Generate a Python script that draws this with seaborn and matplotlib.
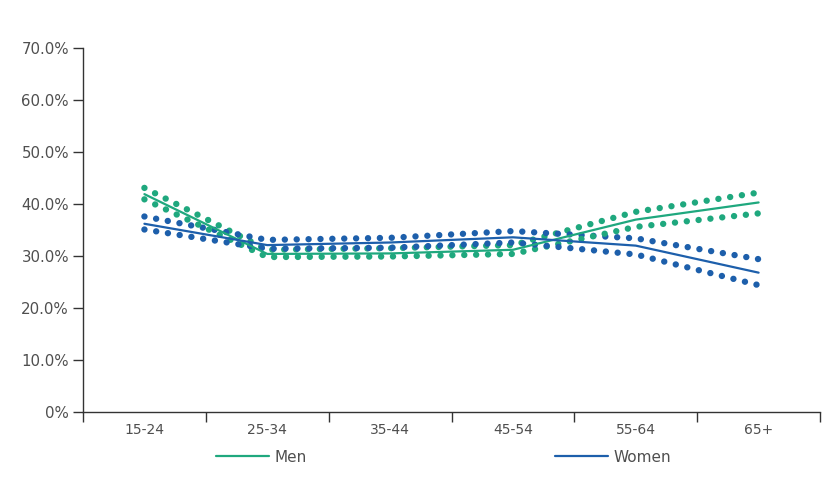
import numpy as np
import pandas as pd
import matplotlib
matplotlib.use("Agg")
import matplotlib.pyplot as plt
import seaborn as sns
from matplotlib.ticker import FuncFormatter, FixedLocator

age_groups = ["15-24", "25-34", "35-44", "45-54", "55-64", "65+"]

men = [41.9, 30.4, 30.5, 31.2, 37.0, 40.3]
men_upper = [43.1, 31.2, 31.5, 32.1, 38.5, 42.2]
men_lower = [40.9, 29.8, 29.9, 30.4, 35.6, 38.2]

women = [36.2, 32.1, 32.6, 33.6, 32.0, 26.8]
women_upper = [37.6, 33.1, 33.5, 34.8, 33.4, 29.4]
women_lower = [35.1, 31.4, 31.6, 32.6, 30.3, 24.4]

green = "#1fa87e"
blue = "#1d5fab"
text_grey = "#4f4f4f"

pos = list(range(len(age_groups)))
df = pd.DataFrame({
    "pos": pos * 2,
    "value": men + women,
    "upper": men_upper + women_upper,
    "lower": men_lower + women_lower,
    "sex": ["Men"] * 6 + ["Women"] * 6,
})

sns.set_style("white")
plt.rcParams["font.family"] = ["DejaVu Sans"]

fig = plt.figure(figsize=(8.4, 4.88), dpi=100)
ax = fig.add_axes([0.0988, 0.1557, 0.8774, 0.7459])

palette = {"Men": green, "Women": blue}

# dotted bands
for col in ["upper", "lower"]:
    for sex, grp in df.groupby("sex"):
        sns.lineplot(data=grp, x="pos", y=col, ax=ax, color=palette[sex],
                     linewidth=4.6, linestyle=(0, (0.01, 1.85)),
                     dash_capstyle="round", legend=False)

# main lines
sns.lineplot(data=df, x="pos", y="value", hue="sex", palette=palette,
             linewidth=1.6, ax=ax)

ax.set_xlim(-0.5, 5.5)
ax.set_ylim(0, 70)
ax.set_xlabel("")
ax.set_ylabel("")

ax.yaxis.set_major_locator(FixedLocator(np.arange(0, 71, 10)))
ax.yaxis.set_major_formatter(FuncFormatter(lambda v, p: "0%" if v == 0 else f"{v:.1f}%"))

ax.set_xticks(np.arange(-0.5, 6, 1))
ax.set_xticklabels([])
ax.set_xticks(pos, minor=True)
ax.set_xticklabels(age_groups, minor=True)

ax.tick_params(axis="x", which="major", length=7, width=1, color="#333333", direction="out", bottom=True)
ax.tick_params(axis="x", which="minor", length=0, pad=8, labelsize=10, labelcolor=text_grey)
ax.tick_params(axis="y", length=7, width=1, color="#333333", direction="out", left=True,
               labelsize=10.8, labelcolor=text_grey, pad=3)

for s in ["top", "right"]:
    ax.spines[s].set_visible(False)
for s in ["left", "bottom"]:
    ax.spines[s].set_color("#333333")
    ax.spines[s].set_linewidth(1)

handles, labels = ax.get_legend_handles_labels()
ax.get_legend().remove()
fig.legend(handles, labels, loc="center", bbox_to_anchor=(0.528, 0.0635), ncol=2,
           frameon=False, handlelength=3.5, handletextpad=0.35, columnspacing=16.2,
           prop={"size": 11}, labelcolor=text_grey)

fig.savefig("out.png", dpi=100, facecolor="white")
